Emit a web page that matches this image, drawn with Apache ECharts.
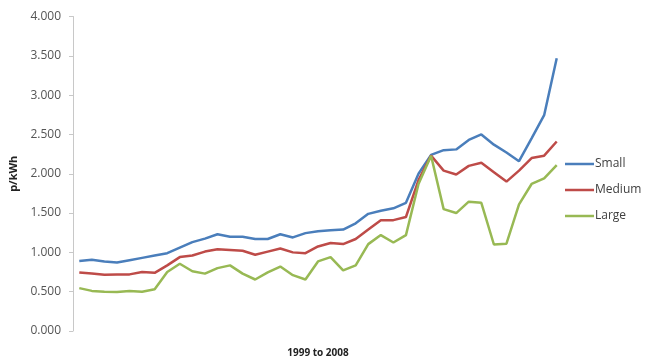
<!DOCTYPE html>
<html style="height: 100%">
<head>
    <meta charset="utf-8">
</head>
<body style="height: 100%; margin: 0; background: #fff">
    <div id="container" style="width: 653px; height: 363px"></div>

    <script type="text/javascript" src="https://cdn.jsdelivr.net/npm/echarts@6/dist/echarts.min.js"></script>
    <script type="text/javascript">
        // quarterly points, 1999 to 2008
        var periods = [];
        for (var y = 1999; y <= 2008; y++) {
            for (var q = 1; q <= 4; q++) {
                if (periods.length < 39) periods.push(y + ' Q' + q);
            }
        }

        var small = [0.89, 0.905, 0.885, 0.87, 0.90, 0.93, 0.96, 0.99, 1.06, 1.13,
                     1.175, 1.23, 1.20, 1.20, 1.17, 1.17, 1.23, 1.19, 1.245, 1.27,
                     1.28, 1.29, 1.37, 1.49, 1.53, 1.56, 1.63, 2.00, 2.24, 2.30,
                     2.31, 2.43, 2.50, 2.37, 2.27, 2.16, 2.45, 2.745, 3.47];
        var medium = [0.745, 0.73, 0.715, 0.72, 0.72, 0.75, 0.74, 0.835, 0.94, 0.96,
                      1.01, 1.04, 1.03, 1.02, 0.97, 1.01, 1.05, 1.00, 0.99, 1.075,
                      1.12, 1.105, 1.17, 1.29, 1.41, 1.41, 1.45, 1.92, 2.23, 2.04,
                      1.99, 2.10, 2.14, 2.02, 1.90, 2.04, 2.20, 2.23, 2.41];
        var large = [0.545, 0.51, 0.50, 0.495, 0.51, 0.50, 0.53, 0.75, 0.855, 0.76,
                     0.73, 0.80, 0.835, 0.73, 0.655, 0.745, 0.82, 0.71, 0.655, 0.885,
                     0.94, 0.77, 0.835, 1.105, 1.22, 1.125, 1.22, 1.87, 2.23, 1.55,
                     1.50, 1.645, 1.63, 1.10, 1.11, 1.61, 1.87, 1.94, 2.11];

        var myChart = echarts.init(document.getElementById('container'));
        var font = 'Open Sans';

        function line(name, data, color) {
            return {
                name: name,
                type: 'line',
                data: data,
                symbol: 'none',
                lineStyle: { width: 2.5, color: color },
                itemStyle: { color: color }
            };
        }

        var option = {
            animation: false,
            grid: { left: 73, right: 90, top: 16.5, bottom: 26 },
            legend: {
                orient: 'vertical',
                left: 560,
                top: 153,
                icon: 'rect',
                itemWidth: 29,
                itemHeight: 2.5,
                itemGap: 14,
                textStyle: { fontFamily: font, fontSize: 12, color: '#404040', padding: [0, 0, 0, -4] },
                data: ['Small', 'Medium', 'Large']
            },
            xAxis: {
                type: 'category',
                data: periods,
                name: '1999 to 2008',
                nameLocation: 'middle',
                nameGap: 17,
                nameTextStyle: { fontFamily: font, fontSize: 10, fontWeight: 'bold', color: '#222' },
                axisLine: { show: false },
                axisTick: { show: false },
                axisLabel: { show: false }
            },
            yAxis: {
                type: 'value',
                min: 0,
                max: 4,
                interval: 0.5,
                name: 'p/kWh',
                nameLocation: 'middle',
                nameGap: 50,
                nameTextStyle: { fontFamily: font, fontSize: 11, fontWeight: 'bold', color: '#222' },
                axisLine: { show: true, lineStyle: { color: '#c8c8c8' } },
                axisTick: { show: true, length: 4, lineStyle: { color: '#c8c8c8' } },
                splitLine: { show: false },
                axisLabel: {
                    fontFamily: font,
                    fontSize: 12,
                    color: '#555',
                    margin: 12,
                    formatter: function (v) { return v.toFixed(3); }
                }
            },
            series: [
                line('Small', small, '#4a7ebb'),
                line('Medium', medium, '#be4b48'),
                line('Large', large, '#98b954')
            ]
        };
        myChart.setOption(option);
    </script>
</body>
</html>
